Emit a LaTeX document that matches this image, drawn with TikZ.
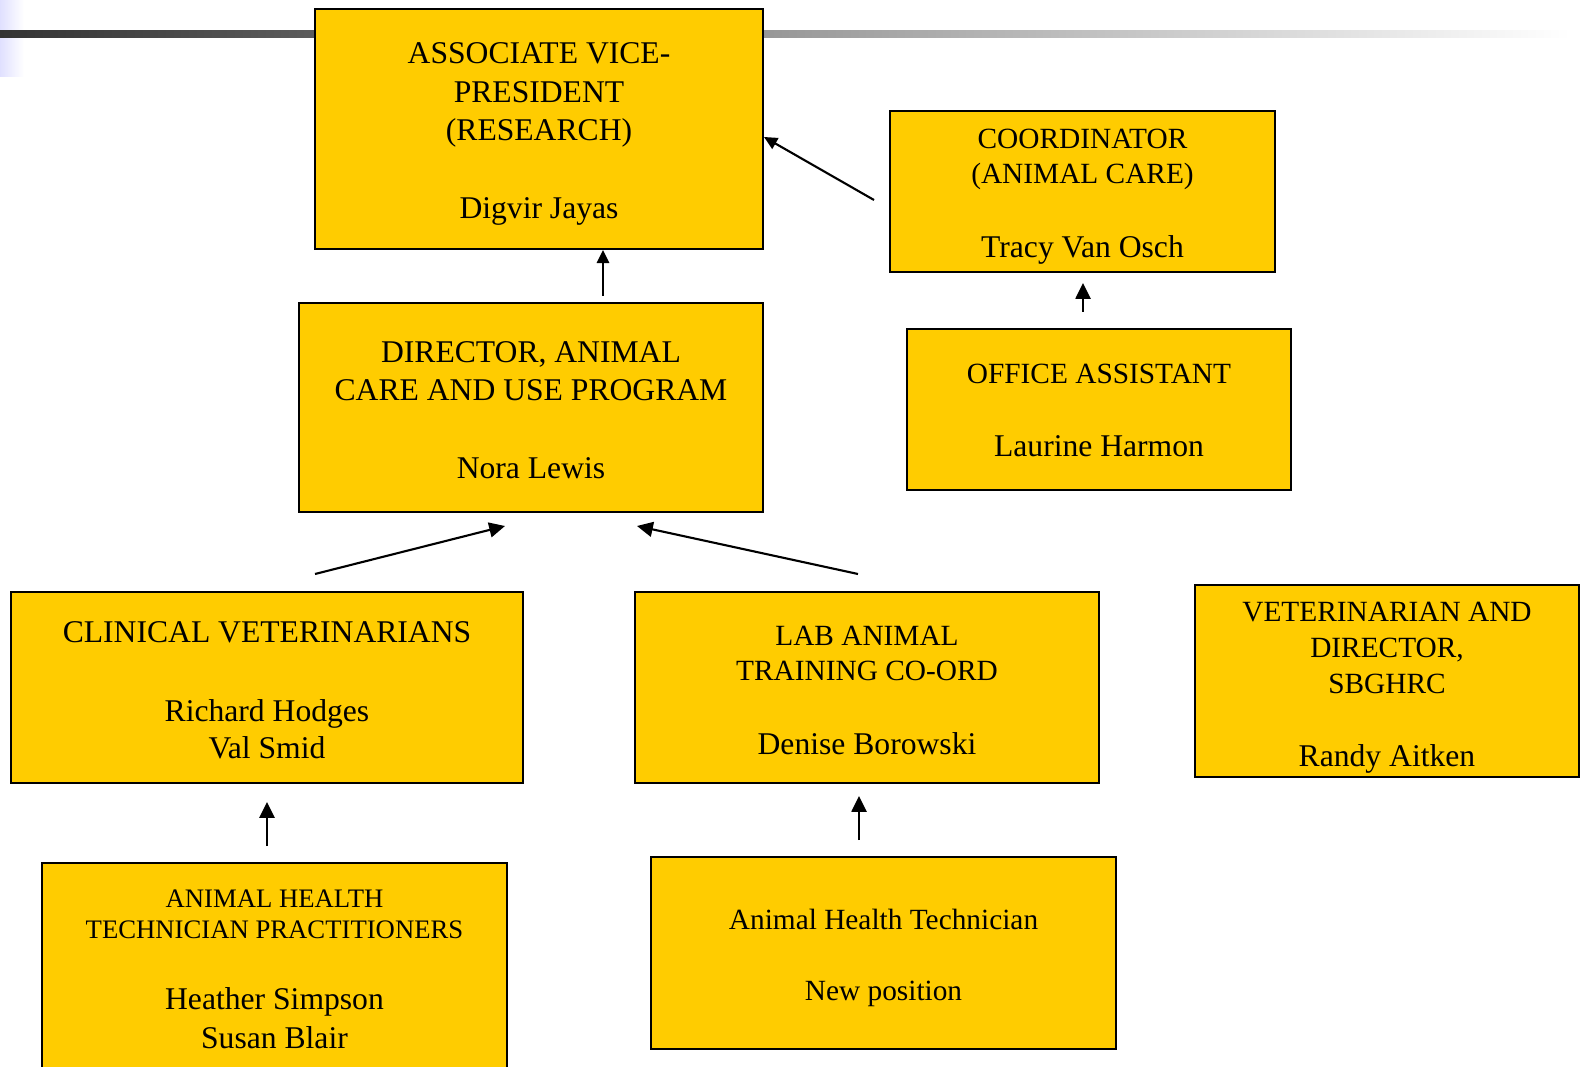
\documentclass[tikz,border=0pt]{standalone}
\usepackage{fontspec}
\setmainfont{Liberation Serif}
\usetikzlibrary{arrows.meta,positioning}

\definecolor{boxyellow}{RGB}{255,204,0}
\newcommand{\ttlsz}{\fontsize{16.7}{20}\selectfont}
\newcommand{\namesz}{\fontsize{18}{20}\selectfont}
\newcommand{\padtop}[1]{\rule{0pt}{#1}}

\begin{document}
\begin{tikzpicture}[x=0.02cm,y=-0.02cm,
    orgbox/.style={draw=black, line width=1.1pt, fill=boxyellow, align=center, inner sep=0pt},
    arr/.style={-{Triangle[length=7.5pt,width=7pt]}, line width=1.2pt},
    bigarr/.style={-{Triangle[length=9pt,width=8.5pt]}, line width=1.2pt}]
    \useasboundingbox (0,0) rectangle (1583,1067);

    % Title bar of the slide
    \shade[left color=blue!12, right color=white] (0,0) rectangle (24,77);
    \shade[left color=black!80, right color=white] (0,31) rectangle (1570,38);

    % Top level
    \node[orgbox, minimum width=8.96cm, minimum height=4.8cm, font=\fontsize{18}{22}\selectfont]
        (avp) at (539,129) {\padtop{17.5pt}ASSOCIATE VICE-\\PRESIDENT\\(RESEARCH)\\[22pt]Digvir Jayas};
    \node[orgbox, minimum width=7.7cm, minimum height=3.22cm, font=\ttlsz]
        (coord) at (1082.5,191.5) {\padtop{17.2pt}COORDINATOR\\(ANIMAL CARE)\\[22pt]\namesz Tracy Van Osch};

    % Second level
    \node[orgbox, minimum width=9.28cm, minimum height=4.18cm, font=\fontsize{18}{22}\selectfont]
        (dir) at (531,407.5) {\padtop{14.7pt}DIRECTOR, ANIMAL\\CARE AND USE PROGRAM\\[22pt]Nora Lewis};
    \node[orgbox, minimum width=7.68cm, minimum height=3.22cm, font=\ttlsz]
        (office) at (1099,409.5) {\padtop{12.6pt}OFFICE ASSISTANT\\[21.5pt]\namesz Laurine Harmon};

    % Third level
    \node[orgbox, minimum width=10.24cm, minimum height=3.82cm, font=\fontsize{18}{21.2}\selectfont]
        (clinvet) at (267,687.5) {\padtop{15.2pt}CLINICAL VETERINARIANS\\[23.3pt]Richard Hodges\\Val Smid};
    \node[orgbox, minimum width=9.28cm, minimum height=3.82cm, font=\ttlsz]
        (labtrain) at (867,687.5) {\padtop{14.3pt}LAB ANIMAL\\TRAINING CO-ORD\\[22pt]\namesz Denise Borowski};
    \node[orgbox, minimum width=7.68cm, minimum height=3.84cm, font=\fontsize{16.7}{20.5}\selectfont]
        (vetdir) at (1387,681) {\padtop{18.3pt}VETERINARIAN AND\\DIRECTOR,\\SBGHRC\\[21pt]\namesz Randy Aitken};

    % Bottom level
    \node[orgbox, minimum width=9.3cm, minimum height=4.24cm, font=\fontsize{15.2}{17.7}\selectfont]
        (ahtp) at (274.5,969) {ANIMAL HEALTH\\TECHNICIAN PRACTITIONERS\\[23pt]\namesz Heather Simpson\\[4pt]\namesz Susan Blair};
    \node[orgbox, minimum width=9.3cm, minimum height=3.84cm, font=\ttlsz]
        (aht) at (883.5,953) {\padtop{17.1pt}Animal Health Technician\\[20pt]New position};

    % Reporting lines
    \coordinate (coordtail) at (874,200);
    \coordinate (avptip) at (764,137);
    \coordinate (dirtail) at (603,296);
    \coordinate (officetail) at (1083,312);
    \coordinate (cvtail) at (315,574);
    \coordinate (cvtip) at (505,526);
    \coordinate (labtail) at (858,574);
    \coordinate (labtip) at (637,526);
    \coordinate (ahtptail) at (267,846);
    \coordinate (ahttail) at (859,840);

    \draw[arr] (coordtail) -- (avptip);
    \draw[arr] (dirtail) -- (dirtail |- avp.south);
    \draw[bigarr] (officetail) -- ([yshift=-0.2cm]officetail |- coord.south);
    \draw[bigarr] (cvtail) -- (cvtip);
    \draw[bigarr] (labtail) -- (labtip);
    \draw[bigarr] (ahtptail) -- ([yshift=-0.36cm]ahtptail |- clinvet.south);
    \draw[bigarr] (ahttail) -- ([yshift=-0.24cm]ahttail |- labtrain.south);
\end{tikzpicture}
\end{document}
